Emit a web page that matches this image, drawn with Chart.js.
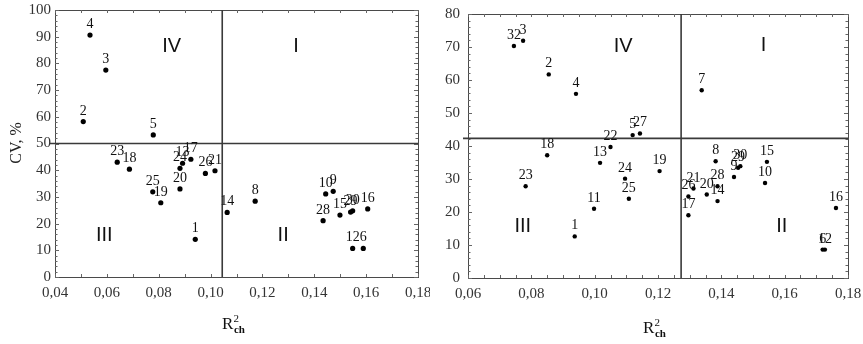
<!DOCTYPE html>
<html><head><meta charset="utf-8">
<script src="https://cdn.jsdelivr.net/npm/chart.js@4.4.0/dist/chart.umd.min.js"></script>
<style>
html,body{margin:0;padding:0;background:#fff;}
#wrap{position:relative;width:863px;height:344px;overflow:hidden;}
canvas{position:absolute;top:0;}
</style></head><body>
<div id="wrap">
<canvas id="c1" width="430" height="344" style="left:0"></canvas>
<canvas id="c2" width="433" height="344" style="left:430px"></canvas>
</div>
<script>
// ---------- Left panel data ----------
const leftLabels = ['1','2','3','4','5','6','8','9','10','12','13','14','15','16','17','18','19','20','21','23','24','25','26','28','29','30'];
const leftX = [0.0941,0.0509,0.0596,0.0535,0.0779,0.1589,0.1172,0.1473,0.1444,0.1548,0.0892,0.1064,0.1499,0.1606,0.0924,0.0687,0.0808,0.0882,0.1017,0.0640,0.0882,0.0777,0.0980,0.1434,0.1540,0.1548];
const leftY = [14.1,58.2,77.5,90.6,53.2,10.7,28.4,32.1,31.1,10.7,42.6,24.2,23.2,25.5,44.1,40.4,27.8,33.0,39.8,43.0,40.7,31.9,38.8,21.1,24.3,24.8];
const leftSplit = [0.1045, 50];
const leftQuadNames = ['IV','I','III','II'];
const leftQuadX = [0.085,0.133,0.059,0.128];
const leftQuadY = [86.3,86.3,15.4,15.4];

// ---------- Right panel data ----------
const rightLabels = ['1','2','3','4','5','6','7','8','9','10','11','12','13','14','15','16','17','18','19','20','21','22','23','24','25','26','27','28','29','30','32'];
const rightX = [0.0937,0.0855,0.0774,0.0941,0.1120,0.1720,0.1338,0.1382,0.1440,0.1538,0.0998,0.1727,0.1017,0.1388,0.1544,0.1762,0.1296,0.0850,0.1205,0.1354,0.1312,0.1050,0.0782,0.1096,0.1108,0.1296,0.1143,0.1388,0.1453,0.1460,0.0745];
const rightY = [12.6,61.7,71.9,55.8,43.3,8.6,56.9,35.4,30.6,28.8,21.0,8.6,34.9,23.3,35.2,21.2,19.0,37.2,32.4,25.3,27.1,39.7,27.8,30.1,24.0,24.7,43.8,27.8,33.4,33.9,70.3];
const rightSplit = [0.1273, 42.3];
const rightQuadNames = ['IV','I','III','II'];
const rightQuadX = [0.109,0.1533,0.0773,0.1591];
const rightQuadY = [70.1,70.6,15.6,15.6];

const SERIF = '"Liberation Serif", "Times New Roman", serif';
const SANS = '"Liberation Sans", Arial, sans-serif';
const fmt = v => v.toFixed(2).replace('.', ',');

function decor(opt){
  return {
    id:'decor',
    afterDatasetsDraw(chart){
      const {ctx, chartArea:a, scales:{x, y}} = chart;
      ctx.save();
      // frame
      ctx.strokeStyle = '#4a4a4a'; ctx.lineWidth = 1;
      ctx.strokeRect(Math.round(a.left)+0.5, Math.round(a.top)+0.5, Math.round(a.right-a.left), Math.round(a.bottom-a.top));
      // inward ticks
      ctx.beginPath();
      const nx = Math.round((x.max - x.min)/opt.xMinor);
      for(let i=0;i<=nx;i++){
        const v = x.min + i*opt.xMinor;
        const px = Math.round(x.getPixelForValue(v))+0.5;
        const L = 3;
        ctx.moveTo(px, a.bottom); ctx.lineTo(px, a.bottom-L);
        ctx.moveTo(px, a.top); ctx.lineTo(px, a.top+L);
      }
      const ny = Math.round((y.max - y.min)/2);
      for(let i=0;i<=ny;i++){
        const v = y.min + i*2;
        const py = Math.round(y.getPixelForValue(v))+0.5;
        const L = (v % 10 === 0) ? 4 : 2.5;
        ctx.moveTo(a.left, py); ctx.lineTo(a.left+L, py);
        ctx.moveTo(a.right, py); ctx.lineTo(a.right-L, py);
      }
      ctx.strokeStyle = '#666'; ctx.lineWidth = 1; ctx.stroke();
      // quadrant lines
      ctx.strokeStyle = '#3a3a3a'; ctx.lineWidth = 1.6;
      const vx = x.getPixelForValue(opt.split[0]);
      const hy = y.getPixelForValue(opt.split[1]);
      ctx.beginPath();
      ctx.moveTo(vx, a.top); ctx.lineTo(vx, a.bottom);
      ctx.moveTo(a.left-5, hy); ctx.lineTo(a.right, hy);
      ctx.stroke();
      // point labels
      ctx.fillStyle = '#111';
      ctx.font = '14px ' + SERIF;
      ctx.textAlign = 'center'; ctx.textBaseline = 'alphabetic';
      opt.labels.forEach((t,i)=>{
        const px = x.getPixelForValue(opt.xs[i]);
        const py = y.getPixelForValue(opt.ys[i]);
        ctx.fillText(t, px, py - 7);
      });
      // quadrant names
      ctx.font = '20px ' + SANS;
      ctx.textBaseline = 'middle';
      opt.qn.forEach((t,i)=>{
        ctx.fillText(t, x.getPixelForValue(opt.qx[i]), y.getPixelForValue(opt.qy[i]));
      });
      // x title R^2_ch
      const tx = opt.titleX, ty = opt.titleY;
      ctx.textAlign = 'left'; ctx.textBaseline = 'alphabetic';
      ctx.font = '17px ' + SERIF; const wR = ctx.measureText('R').width;
      ctx.font = '11px ' + SERIF; const w2 = ctx.measureText('2').width;
      ctx.font = 'bold 11px ' + SERIF; const wc = ctx.measureText('ch').width;
      let sx = tx - (wR + w2 + wc)/2;
      ctx.font = '17px ' + SERIF; ctx.fillText('R', sx, ty); sx += wR;
      ctx.font = '11px ' + SERIF; ctx.fillText('2', sx, ty - 7);
      ctx.font = 'bold 11px ' + SERIF; ctx.fillText('ch', sx + 0.5, ty + 4);
      // y title
      if(opt.yTitle){
        ctx.save();
        ctx.translate(opt.yTitleX, opt.yTitleY);
        ctx.rotate(-Math.PI/2);
        ctx.font = '16px ' + SERIF; ctx.textAlign = 'center'; ctx.textBaseline = 'middle';
        ctx.fillStyle = '#222';
        ctx.fillText(opt.yTitle, 0, 0);
        ctx.restore();
      }
      ctx.restore();
    }
  };
}

function build(id, xs, ys, labels, xmin, xmax, ymax, pad, yw, xh, yPad, opt){
  const pts = xs.map((v,i)=>({x:v, y:ys[i]}));
  return new Chart(document.getElementById(id), {
    type:'scatter',
    data:{datasets:[{data:pts, backgroundColor:'#000', borderWidth:0, pointRadius:opt.r, pointHoverRadius:opt.r}]},
    options:{
      responsive:false, animation:false, devicePixelRatio:1,
      layout:{padding:pad},
      plugins:{legend:{display:false}, tooltip:{enabled:false}},
      scales:{
        x:{type:'linear', min:xmin, max:xmax,
           grid:{display:false, drawTicks:false}, border:{display:false},
           ticks:{stepSize:0.02, padding:7, maxRotation:0, autoSkip:false, color:'#333',
                  font:{family:SERIF, size:15}, callback:v=>fmt(v)},
           afterFit:s=>{s.height = xh; s.paddingLeft=0; s.paddingRight=0;}},
        y:{type:'linear', min:0, max:ymax,
           grid:{display:false, drawTicks:false}, border:{display:false},
           ticks:{stepSize:10, padding:yPad, color:'#333', font:{family:SERIF, size:15}},
           afterFit:s=>{s.width = yw; s.paddingTop=0; s.paddingBottom=0;}}
      }
    },
    plugins:[decor(opt)]
  });
}

build('c1', leftX, leftY, leftLabels, 0.04, 0.18, 100,
  {top:10, right:12, left:0, bottom:0}, 55, 67, 4,
  {xs:leftX, ys:leftY, labels:leftLabels, split:leftSplit, xMinor:0.01, r:2.6,
   qn:leftQuadNames, qx:leftQuadX, qy:leftQuadY, titleX:236, titleY:329,
   yTitle:'CV, %', yTitleX:17, yTitleY:143});
build('c2', rightX, rightY, rightLabels, 0.06, 0.18, 80,
  {top:14, right:15, left:0, bottom:0}, 38, 66, 8,
  {xs:rightX, ys:rightY, labels:rightLabels, split:rightSplit, xMinor:0.005, r:2.2,
   qn:rightQuadNames, qx:rightQuadX, qy:rightQuadY, titleX:227, titleY:333});
</script>
</body></html>
